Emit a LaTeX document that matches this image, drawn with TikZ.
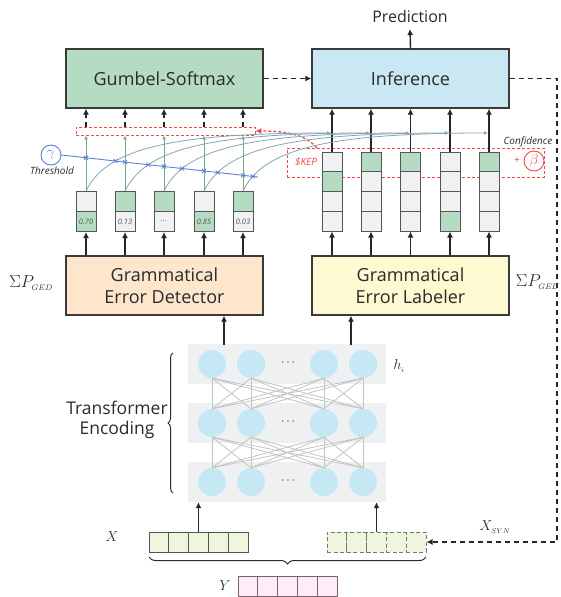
\documentclass[tikz,border=0pt]{standalone}
\usepackage{fontspec}
\setmainfont{Open Sans}
\usetikzlibrary{arrows.meta,decorations.pathreplacing,intersections,calc}
\definecolor{bline}{HTML}{3A3A3A}
\definecolor{cline}{HTML}{555555}
\definecolor{tdark}{HTML}{2A2A2A}
\definecolor{ggreen}{HTML}{B5DCC2}
\definecolor{iblue}{HTML}{C9E8F3}
\definecolor{peach}{HTML}{FDE6CC}
\definecolor{lyell}{HTML}{FDF9D0}
\definecolor{cgray}{HTML}{F0F1F3}
\definecolor{cgreen}{HTML}{B5DCC2}
\definecolor{glinec}{HTML}{78AA82}
\definecolor{steel}{HTML}{86A3B6}
\definecolor{thblue}{HTML}{5A80D4}
\definecolor{rred}{HTML}{EF4A4A}
\definecolor{nblue}{HTML}{C6E7F4}
\definecolor{trbg}{HTML}{EFF0F2}
\definecolor{trline}{HTML}{C3C3C3}
\definecolor{xfill}{HTML}{EEF6DE}
\definecolor{yfill}{HTML}{FCEDF6}
\definecolor{yline}{HTML}{7A6270}
\begin{document}
\begin{tikzpicture}[x=1pt,y=-1pt,
  bigbox/.style={draw=bline,line width=1.3pt,minimum width=197pt,minimum height=59pt,inner sep=0pt,align=center,font=\fontsize{18}{21.5}\selectfont,text=tdark},
  cell/.style={draw=cline,line width=1pt,minimum width=20pt,minimum height=20pt,inner sep=0pt,font=\fontsize{7.5}{8}\selectfont\itshape,text=tdark!80},
  lcell/.style={cell,minimum height=19.75pt},
  arr/.style={-{Latex[length=6pt,width=6pt]},line width=1.4pt,draw=black!85},
  darr/.style={arr,dash pattern=on 5pt off 4pt},
  gline/.style={-{Latex[length=4pt,width=4pt]},line width=0.9pt,draw=glinec},
  steelcurve/.style={-{Latex[length=4pt,width=4pt]},line width=0.8pt,draw=steel},
  reddash/.style={draw=rred,line width=0.9pt,dash pattern=on 3pt off 2pt},
  xmark/.style={draw=thblue,line width=0.8pt},
  tline/.style={draw=trline,line width=0.8pt},
  neuron/.style={circle,fill=nblue,minimum size=28pt,inner sep=0pt},
  tok/.style={draw=cline,line width=1pt,minimum width=19.8pt,minimum height=20pt,inner sep=0pt},
  lbl/.style={inner sep=0pt,text=tdark}
]
\useasboundingbox (0,0) rectangle (560,597);

% main boxes
\node[bigbox,fill=ggreen] (gum) at (164.5,78.5) {Gumbel-Softmax};
\node[bigbox,fill=iblue] (inf) at (410.5,78.5) {Inference};
\node[bigbox,fill=peach] (ged) at (164.5,285.5) {Grammatical\\Error Detector};
\node[bigbox,fill=lyell] (gel) at (410.5,285.5) {Grammatical\\Error Labeler};

\node[lbl,font=\fontsize{16}{18}\selectfont] (pred) at (410,17) {Prediction};
\draw[arr] (inf.north) -- (pred.south |- 0,29);

\node[lbl,font=\fontsize{16}{18}\selectfont] (sged) at (31,283) {$\Sigma P_{\scriptscriptstyle GED}$};
\node[lbl,font=\fontsize{16}{18}\selectfont] (sgel) at (537,282) {$\Sigma P_{\scriptscriptstyle GEL}$};

% red box and SKEP box
\node[reddash,minimum width=179pt,minimum height=8pt,inner sep=0pt] (redbox) at (165.5,131) {};
\node[reddash,minimum width=257pt,minimum height=29pt,inner sep=0pt] (skep) at (415.5,162.5) {};
\node[text=rred,font=\fontsize{10}{11}\selectfont\itshape,inner sep=0pt] (skeptxt) at (306,162) {\$KEP};
\node[text=rred,font=\fontsize{10}{11}\selectfont,inner sep=0pt] (plus) at (517,161) {+};
\node[draw=rred,circle,line width=0.9pt,minimum size=20pt,inner sep=0pt,text=rred,font=\fontsize{15}{15}\selectfont] (beta) at (534,161) {$\beta$};
\node[text=tdark,font=\fontsize{10}{11}\selectfont\itshape,inner sep=0pt] (conf) at (528,142) {Confidence};
\coordinate (rs) at (317,148);
\draw[reddash,line width=1.3pt,-{Latex[length=6pt,width=6pt]}] (rs) .. controls (305,134) and (285,131) .. (redbox.east);

% threshold
\node[draw=thblue,circle,line width=0.9pt,minimum size=20pt,inner sep=0pt,text=thblue,font=\fontsize{15}{15}\selectfont] (gam) at (51,155) {$\gamma$};
\node[text=tdark,font=\fontsize{10}{11}\selectfont\itshape,inner sep=0pt] (thr) at (52,171) {Threshold};
\coordinate (thend) at (258,177);
\draw[draw=thblue,line width=0.9pt,name path=thline] (gam.east) -- (thend);

% detector cells
\foreach \i/\x/\ta/\tb/\v in {1/86/cgray/cgreen/0.70, 2/125/cgreen/cgray/0.13, 3/164/cgreen/cgray/{\ldots}, 4/204/cgray/cgreen/0.85, 5/243/cgreen/cgray/0.03}{
  \node[cell,fill=\ta] (dt\i) at (\x,201.5) {};
  \node[cell,fill=\tb] (db\i) at (\x,221.5) {\v};
  \draw[arr] (db\i.south |- ged.north) -- (db\i.south);
  \draw[gline,name path=gl\i] (dt\i.north) -- (dt\i.north |- redbox.south);
  \draw[darr] (dt\i.north |- redbox.north) -- (dt\i.north |- gum.south);
  \path[name intersections={of=thline and gl\i,by=gx\i}];
  \draw[xmark] (gx\i) +(-2,-2) -- +(2,2) +(-2,2) -- +(2,-2);
}

% labeler cells
\foreach \i/\x/\g in {1/332/2,2/371/1,3/410.5/1,4/450/4,5/489/1}{
  \foreach \r in {1,2,3,4}{
    \ifnum\r=\g \def\cc{cgreen}\else\def\cc{cgray}\fi
    \node[lcell,fill=\cc] (l\i\r) at (\x,{152+(\r-0.5)*19.75}) {};
  }
  \draw[arr] (l\i4.south |- gel.north) -- (l\i4.south);
  \draw[arr] (l\i1.north) -- (l\i1.north |- inf.south);
  \coordinate (c\i) at (\x,133);
}

% curves from detector to labeler
\foreach \i/\x in {1/86,2/125,3/164,4/204,5/243}{
  \draw[steelcurve,name path=cv\i] (dt\i.north) .. controls ({\x+20},150) and ({\x+80},133) .. ([xshift=-1pt]c\i);
  \path[name intersections={of=thline and cv\i,by=cx\i}];
  \draw[xmark] (cx\i) +(-2,-2) -- +(2,2) +(-2,2) -- +(2,-2);
}

% gumbel -> inference
\draw[darr] (gum.east) -- (inf.west);

% transformer
\foreach \r/\y in {1/364,2/423,3/482}{
  \node[fill=trbg,minimum width=198pt,minimum height=40pt,inner sep=0pt] (tr\r) at (287,\y) {};
}
\foreach \r/\y in {1/364,2/423,3/482}{
  \foreach \c/\x in {1/212,2/251,3/324,4/363}{
    \node[neuron] (n\r\c) at (\x,\y) {};
  }
  \node[lbl,font=\fontsize{12}{12}\selectfont] (dots\r) at (288,\y-1) {$\cdots$};
}
\foreach \r/\rr in {1/2,2/3}{
  \foreach \a in {1,2,3,4}{
    \foreach \b in {1,2,3,4}{
      \draw[tline] (n\r\a.south) -- (n\rr\b.north);
    }
  }
}
\node[lbl,font=\fontsize{15}{18}\selectfont] (hi) at (399,366) {$h_{\scriptscriptstyle i}$};
\draw[decorate,decoration={brace,amplitude=5pt},line width=1pt,draw=tdark] (173,493) -- (173,353);
\node[lbl,align=center,font=\fontsize{17.5}{20}\selectfont] (te) at (117,420) {Transformer\\Encoding};

\coordinate (ta) at (224,345);
\coordinate (tb) at (351,345);
\draw[arr] (ta) -- (ta |- ged.south);
\draw[arr] (tb) -- (tb |- gel.south);

% inputs
\foreach \k in {1,...,5}{
  \node[tok,fill=xfill] (x\k) at ({149+(\k-0.5)*19.8},542) {};
  \node[tok,fill=xfill,dash pattern=on 4pt off 2.5pt,draw=cline!80] (s\k) at ({327+(\k-0.5)*19.8},542) {};
  \node[tok,fill=yfill,draw=yline] (y\k) at ({238+(\k-0.5)*19.8},586) {};
}
\draw[arr] (x3.north) -- (x3.north |- tr3.south);
\draw[arr] (s3.north) -- (s3.north |- tr3.south);
\node[lbl,font=\fontsize{15}{18}\selectfont] (xl) at (112,537) {$X$};
\node[lbl,font=\fontsize{15}{18}\selectfont] (yl) at (225,586) {$Y$};
\node[lbl,font=\fontsize{15}{18}\selectfont] (xsl) at (495,527) {$X_{\scriptscriptstyle SYN}$};
\draw[decorate,decoration={brace,amplitude=7pt},line width=1pt,draw=tdark] (426,557) -- (149,557);

% feedback to synthetic input
\draw[darr] (inf.east) -- (557,78.5) |- (s5.east);
\end{tikzpicture}
\end{document}
